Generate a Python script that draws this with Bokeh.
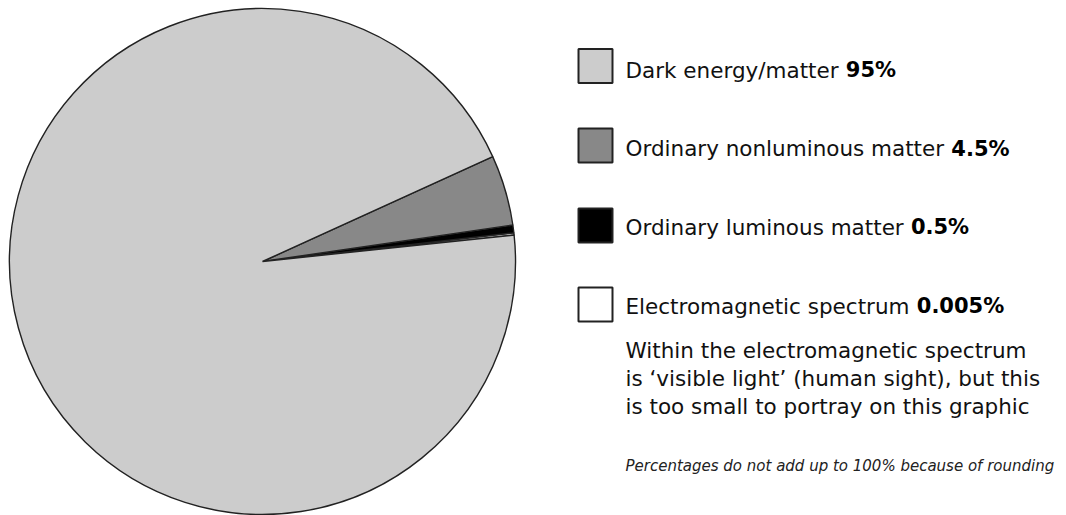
from bokeh.plotting import figure
from bokeh.models import Range1d
from bokeh.embed import file_html
from bokeh.resources import INLINE
from bokeh.core.properties import value
import math

# ---- data ----
categories = ["Dark energy/matter", "Ordinary nonluminous matter",
              "Ordinary luminous matter", "Electromagnetic spectrum"]
percent_labels = ["95%", "4.5%", "0.5%", "0.005%"]
values = [95.0, 4.5, 0.5, 0.005]
colors = ["#cccccc", "#888888", "#000000", "#ffffff"]
note_lines = ["Within the electromagnetic spectrum",
              "is \u2018visible light\u2019 (human sight), but this",
              "is too small to portray on this graphic"]
footnote = "Percentages do not add up to 100% because of rounding"

W, H = 1066, 515
FONT = "DejaVu Sans"
FS = 21.5
FN = 15
BASE_FIX = 0.33  # em offset: measured shift of rendered baseline

# approximate DejaVu Sans advance widths (units of 1/2048 em) for layout
ADV = {' ': 651, 'a': 1255, 'b': 1300, 'c': 1126, 'd': 1300, 'e': 1260,
       'f': 721, 'g': 1300, 'h': 1298, 'i': 569, 'k': 1186, 'l': 569,
       'm': 1995, 'n': 1298, 'o': 1253, 'p': 1300, 'r': 842, 's': 1067,
       't': 803, 'u': 1298, 'v': 1212, 'y': 1212, '/': 690, 'D': 1577,
       'E': 1294, 'O': 1612}

def text_width(s, size):
    return sum(ADV.get(ch, 1250) for ch in s) / 2048.0 * size

def X(px):
    return px

def Y(py):
    return H - py

p = figure(width=W, height=H, output_backend="svg", toolbar_location=None,
           x_range=Range1d(0, W), y_range=Range1d(0, H), min_border=0)
p.axis.visible = False
p.grid.visible = False
p.outline_line_color = None
p.background_fill_color = "white"

# ---- pie: drawn counter-clockwise from a start angle, smallest slice first ----
total = sum(values)
start = math.radians(6.0)
min_vis = math.radians(0.5)  # keep the tiny slice visible as a sliver
order = [3, 2, 1, 0]
angles = {}
a = start
for i in order:
    span = 2 * math.pi * values[i] / total
    if i == 3:
        span = max(span, min_vis)
    if i == 0:
        span = start + 2 * math.pi - a
    angles[i] = (a, a + span)
    a += span

cx, cy, r = X(262), Y(261), 253
for i in order:
    s, e = angles[i]
    p.wedge(x=cx, y=cy, radius=r, start_angle=s, end_angle=e,
            fill_color=colors[i], line_color="#222222", line_width=1.4)

# ---- legend ----
leg_base = [76.7, 155.5, 234, 312.7]
sq_center = [65.5, 145, 225, 304]
TX = 625
for i, cat in enumerate(categories):
    by = leg_base[i] - BASE_FIX * FS
    p.rect(x=X(595), y=Y(sq_center[i]), width=34, height=34,
           fill_color=colors[i], line_color="#222222", line_width=2)
    p.text(x=[X(TX)], y=[Y(by)], text=[cat], text_font=value(FONT),
           text_font_size=f"{FS}px", text_color="#111111",
           text_baseline="alphabetic", text_align="left")
    bx = TX + text_width(cat + " ", FS)
    p.text(x=[X(bx)], y=[Y(by)], text=[percent_labels[i]],
           text_font=value(FONT), text_font_style="bold",
           text_font_size=f"{FS - 0.5}px", text_color="#000000",
           text_baseline="alphabetic", text_align="left")

for k, line in enumerate(note_lines):
    yb = 356.7 + 28.4 * k - BASE_FIX * FS
    p.text(x=[X(TX)], y=[Y(yb)], text=[line], text_font=value(FONT),
           text_font_size=f"{FS}px", text_color="#111111",
           text_baseline="alphabetic", text_align="left")

p.text(x=[X(TX)], y=[Y(470.7 - BASE_FIX * FN)], text=[footnote],
       text_font=value(FONT), text_font_style="italic",
       text_font_size=f"{FN}px", text_color="#222222",
       text_baseline="alphabetic", text_align="left")

open("out.html", "w").write(file_html(p, INLINE))
